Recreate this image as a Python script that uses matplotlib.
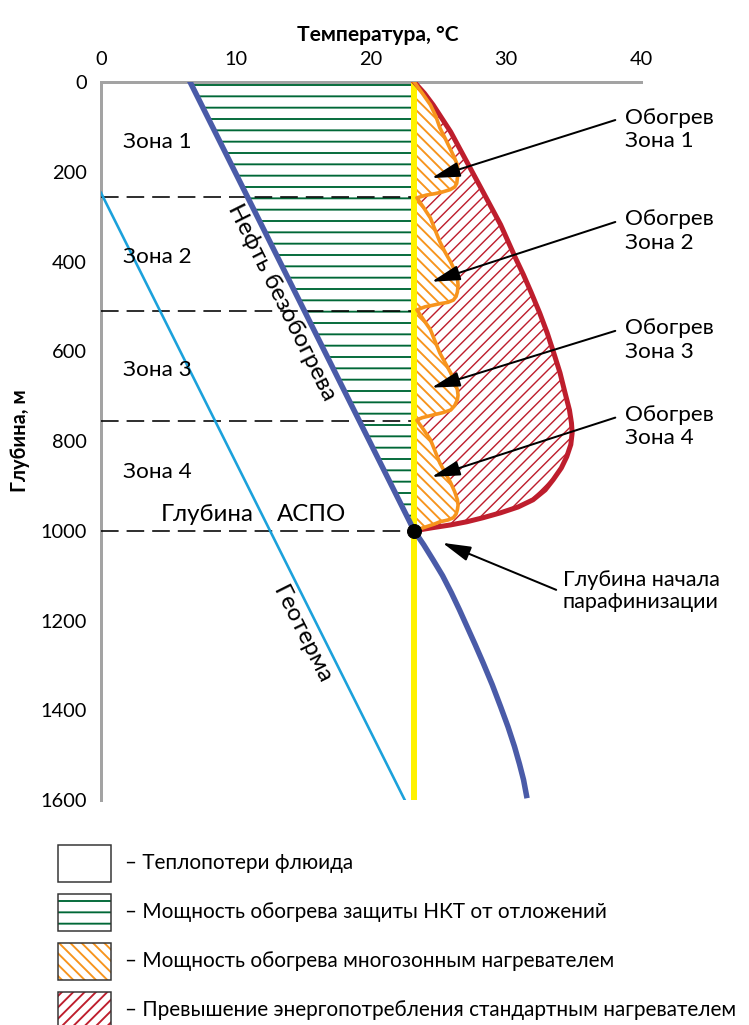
import numpy as np
import matplotlib.pyplot as plt
from matplotlib.patches import Rectangle

DPI = 68
W, H = 749, 1025


def pt(px):
    # pixel size -> points at this dpi
    return px * 72.0 / DPI


plt.rcParams['font.family'] = ['Lato', 'DejaVu Sans']
plt.rcParams['hatch.linewidth'] = 2.0

# ---------------- data ----------------
temp_ticks = [0, 10, 20, 30, 40]
depth_ticks = [0, 200, 400, 600, 800, 1000, 1200, 1400, 1600]

paraffin_temp = 23.2     # yellow line
paraffin_depth = 1000    # depth of paraffin deposition start

zone_bounds = [256, 511, 755, 1000]
zone_names = ['Зона 1', 'Зона 2', 'Зона 3', 'Зона 4']
zone_label_depth = [134, 390, 641, 869]

# oil temperature without heating
oil_depth = [0, 1000, 1031, 1065, 1100, 1138, 1176, 1214, 1254, 1294, 1343,
             1392, 1437, 1481, 1520, 1555, 1590]
oil_temp = [6.6, 23.2, 23.9, 24.6, 25.3, 25.95, 26.55, 27.12, 27.72, 28.3, 28.98,
            29.6, 30.15, 30.63, 31.0, 31.3, 31.52]

# geotherm
geo_depth = [247, 1600]
geo_temp = [0.0, 22.5]

# standard heater
std_depth = [0, 25, 51, 111, 178, 245, 318, 392, 430, 468, 515, 559, 605, 648,
             690, 731, 760, 782, 808, 835, 860, 886, 909, 931, 947, 960, 971,
             980, 987, 993, 1000]
std_temp = [23.2, 23.95, 24.6, 25.9, 27.1, 28.3, 29.6, 30.7, 31.3, 31.85, 32.5,
            33.05, 33.55, 34.0, 34.35, 34.7, 34.85, 34.9, 34.8, 34.5, 34.1, 33.5,
            32.9, 32.0, 30.9, 29.6, 28.3, 27.1, 25.9, 24.6, 23.2]

# multizone heater
mz_depth = [0, 25, 51, 76, 102, 126, 151, 170, 185, 200, 214, 226, 234, 240, 245, 249, 252, 256, 258,
            280, 303, 330, 356, 380, 401, 420, 437, 453, 468, 478, 486, 491, 494, 498, 501, 505, 508,
            530, 552, 578, 604, 626, 648, 668, 686, 698, 708, 721, 731, 737, 742, 745, 748, 751, 754,
            775, 797, 823, 849, 871, 893, 913, 931, 943, 953, 963, 971, 976, 980, 985, 990, 995, 1000]
mz_temp = [23.2, 23.8, 24.4, 24.8, 25.1, 25.5, 25.9, 26.2, 26.4, 26.45, 26.4, 26.35, 26.2, 25.85, 25.3, 24.7, 24.1, 23.65, 23.4,
           23.9, 24.4, 24.75, 25.1, 25.5, 25.9, 26.2, 26.4, 26.45, 26.4, 26.3, 26.1, 25.7, 25.1, 24.5, 24.0, 23.65, 23.4,
           23.9, 24.4, 24.75, 25.1, 25.5, 25.9, 26.2, 26.4, 26.45, 26.4, 26.2, 25.9, 25.3, 24.6, 24.2, 23.8, 23.55, 23.4,
           23.9, 24.4, 24.75, 25.1, 25.5, 25.9, 26.2, 26.4, 26.45, 26.4, 26.3, 26.1, 25.7, 25.1, 24.7, 24.2, 23.7, 23.2]

heat_labels = ['Обогрев\nЗона 1', 'Обогрев\nЗона 2', 'Обогрев\nЗона 3', 'Обогрев\nЗона 4']
heat_text_depth = [105, 332, 575, 768]
heat_tip = [(24.5, 214), (24.5, 445), (24.5, 681), (24.5, 880)]

legend_labels = ['– Теплопотери флюида',
                 '– Мощность обогрева защиты НКТ от отложений',
                 '– Мощность обогрева многозонным нагревателем',
                 '– Превышение энергопотребления стандартным нагревателем']

# ---------------- colors ----------------
C_OIL = '#4a5ba8'
C_GEO = '#1ba1db'
C_YEL = '#fff200'
C_RED = '#be1e2d'
C_ORG = '#f7941d'
C_GRN = '#006837'
C_AX = '#a3a3a3'

fig = plt.figure(figsize=(W / DPI, H / DPI), dpi=DPI)
ax = fig.add_axes([101 / W, 1 - 800 / H, 540 / W, 718 / H])
ax.set_xlim(0, 40)
ax.set_ylim(1600, 0)

# fills
ax.fill_betweenx(oil_depth[:2], oil_temp[:2], paraffin_temp, facecolor='white',
                 edgecolor=C_GRN, hatch='-', lw=0, zorder=1)
red_fill = ax.fill_betweenx(std_depth, paraffin_temp, std_temp, facecolor='white',
                            edgecolor=C_RED, hatch='//', lw=0, zorder=1)
if hasattr(red_fill, 'set_hatch_linewidth'):
    red_fill.set_hatch_linewidth(1.5)
ax.fill_betweenx(mz_depth, paraffin_temp, mz_temp, facecolor='white',
                 edgecolor=C_ORG, hatch='\\\\', lw=0, zorder=2)

# zone boundaries
ax.hlines(zone_bounds, 0, paraffin_temp, colors='black', lw=pt(1.6),
          linestyles=(0, (11, 5)), zorder=3)

# lines
ax.plot(geo_temp, geo_depth, color=C_GEO, lw=pt(2.6), zorder=4)
ax.plot([paraffin_temp, paraffin_temp], [0, 1600], color=C_YEL, lw=pt(6), zorder=4)
ax.plot(std_temp, std_depth, color=C_RED, lw=pt(5), zorder=5, solid_joinstyle='round')
ax.plot(mz_temp, mz_depth, color=C_ORG, lw=pt(3.6), zorder=6, solid_joinstyle='round')
ax.plot(oil_temp, oil_depth, color=C_OIL, lw=pt(5.5), zorder=7, solid_joinstyle='round')
ax.plot([paraffin_temp], [paraffin_depth], 'o', color='black', ms=pt(14), zorder=8)

# axes styling
for s in ['right', 'bottom']:
    ax.spines[s].set_visible(False)
for s in ['left', 'top']:
    ax.spines[s].set_color(C_AX)
    ax.spines[s].set_linewidth(pt(3))
ax.xaxis.tick_top()
ax.xaxis.set_label_position('top')
ax.set_xticks(temp_ticks)
ax.set_yticks(depth_ticks)
ax.tick_params(length=0, labelsize=pt(20), pad=pt(14), colors='black')
ax.set_xlabel('Температура, °C', fontsize=pt(21), fontweight='bold', labelpad=pt(10), x=0.513)
ax.set_ylabel('Глубина, м', fontsize=pt(20), fontweight='bold', labelpad=pt(10))

fs = pt(22.5)
for name, d in zip(zone_names, zone_label_depth):
    ax.text(1.6, d, name, fontsize=fs, ha='left', va='center', zorder=9)
ax.text(4.4, 964, 'Глубина', fontsize=pt(24), ha='left', va='center', zorder=9)
ax.text(13.0, 964, 'АСПО', fontsize=pt(24), ha='left', va='center', zorder=9)


def line_angle(xs, ys):
    p1 = ax.transData.transform((xs[0], ys[0]))
    p2 = ax.transData.transform((xs[1], ys[1]))
    return np.degrees(np.arctan2(p2[1] - p1[1], p2[0] - p1[0]))


ax.text(13.4, 490, 'Нефть безобогрева', fontsize=pt(24), ha='center', va='center',
        rotation=line_angle(oil_temp, oil_depth), rotation_mode='anchor', zorder=9)
ax.text(14.9, 1232, 'Геотерма', fontsize=pt(24), ha='center', va='center',
        rotation=line_angle(geo_temp, geo_depth), rotation_mode='anchor', zorder=9)

arrow_kw = dict(arrowstyle='-|>,head_length=0.75,head_width=0.2', color='black',
                lw=pt(2), mutation_scale=pt(32), shrinkB=0)
for lab, d, tip in zip(heat_labels, heat_text_depth, heat_tip):
    ax.annotate(lab, xy=tip, xytext=(38.8, d), fontsize=fs, ha='left', va='center',
                linespacing=1.2, annotation_clip=False, zorder=9,
                arrowprops=dict(arrow_kw, relpos=(0, 0.78), shrinkA=pt(8)))

ax.annotate('Глубина начала\nпарафинизации', xy=(25.3, 1027), xytext=(34.2, 1134),
            fontsize=pt(21.5), ha='left', va='center', linespacing=1.1,
            annotation_clip=False, zorder=9,
            arrowprops=dict(arrow_kw, relpos=(0, 0.46), shrinkA=pt(5)))

# legend
leg_hatch = [None, '-', '\\\\', '//']
leg_color = ['white', C_GRN, C_ORG, C_RED]
for i, (lab, hch, col) in enumerate(zip(legend_labels, leg_hatch, leg_color)):
    top = 845 + 49 * i
    xy = (58 / W, 1 - (top + 37) / H)
    fig.add_artist(Rectangle(xy, 53 / W, 37 / H, transform=fig.transFigure,
                             facecolor='white', edgecolor=col, hatch=hch, lw=0))
    fig.add_artist(Rectangle(xy, 53 / W, 37 / H, transform=fig.transFigure,
                             facecolor='none', edgecolor='#333333', lw=pt(1.5)))
    fig.text(125 / W, 1 - (top + 18) / H, lab, fontsize=pt(20.8), ha='left', va='center')

plt.savefig('out.png', dpi=DPI)
